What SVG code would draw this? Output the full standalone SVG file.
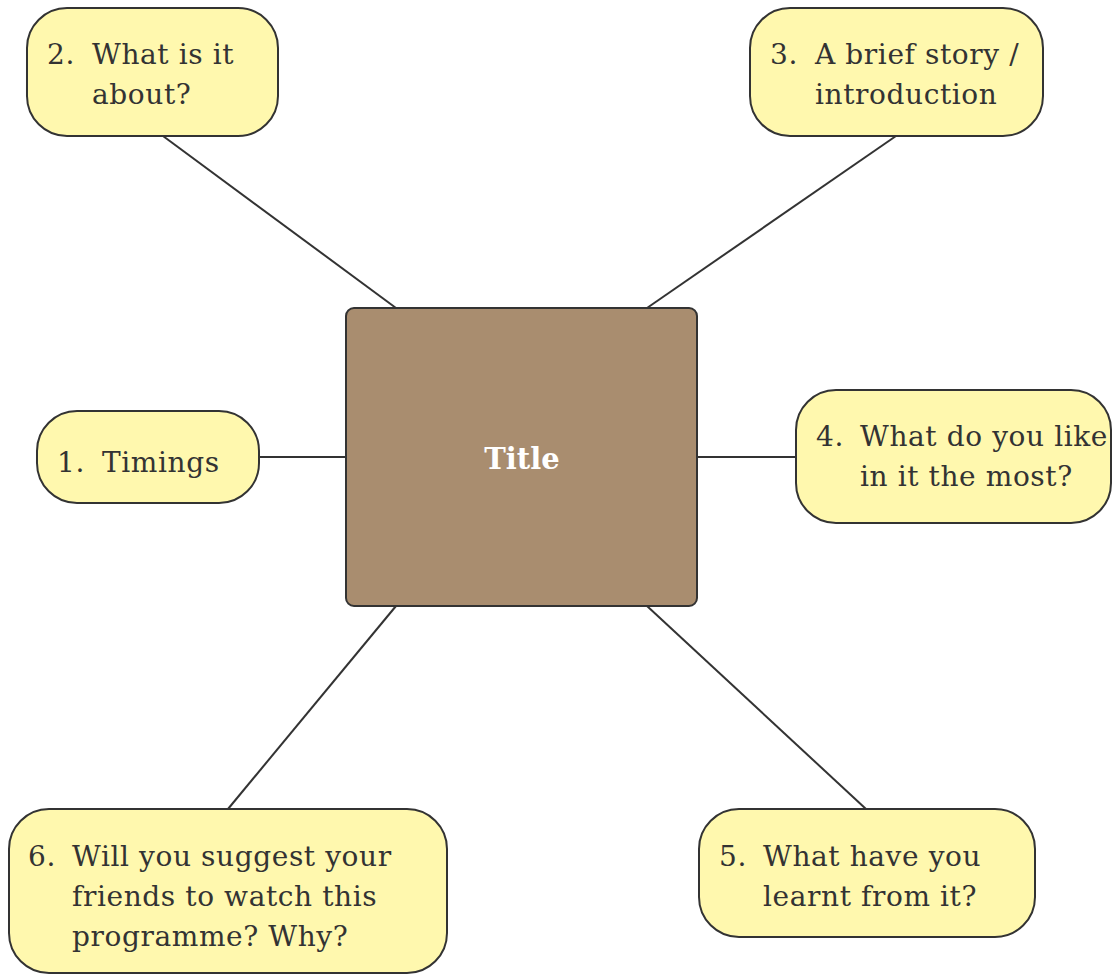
<svg xmlns="http://www.w3.org/2000/svg" width="1117" height="975" viewBox="0 0 1117 975">
  <style>
    .bubble { fill: #FFF8AE; stroke: #333333; stroke-width: 2; }
    .hub { fill: #A98D6F; stroke: #333333; stroke-width: 2; }
    .label { font-family: "DejaVu Serif", "Liberation Serif", serif; font-size: 28px; letter-spacing: 0.6px; fill: #333333; }
    .title { font-family: "DejaVu Serif", "Liberation Serif", serif; font-size: 29px; font-weight: bold; fill: #FFFFFF; }
    .link { stroke: #333333; stroke-width: 2; fill: none; }
  </style>
  <rect width="1117" height="975" fill="#FFFFFF"/>

  <g id="connectors">
    <line class="link" x1="163" y1="136" x2="396" y2="308"/>
    <line class="link" x1="896" y1="136" x2="647" y2="308"/>
    <line class="link" x1="259" y1="457" x2="346" y2="457"/>
    <line class="link" x1="697" y1="457" x2="796" y2="457"/>
    <line class="link" x1="647" y1="606" x2="866" y2="809"/>
    <line class="link" x1="396" y1="606" x2="228" y2="809"/>
  </g>

  <g id="title">
    <rect class="hub" x="346" y="308" width="351" height="298" rx="8"/>
    <text class="title" x="522" y="469" text-anchor="middle">Title</text>
  </g>

  <g id="item-1">
    <rect class="bubble" x="37" y="411" width="222" height="92" rx="40"/>
    <text class="label" x="57" y="472">1.</text>
    <text class="label" x="102" y="472">Timings</text>
  </g>

  <g id="item-2">
    <rect class="bubble" x="27" y="8" width="251" height="128" rx="40"/>
    <text class="label" x="47" y="64">2.</text>
    <text class="label" x="92" y="64">What is it</text>
    <text class="label" x="92" y="104">about?</text>
  </g>

  <g id="item-3">
    <rect class="bubble" x="750" y="8" width="293" height="128" rx="40"/>
    <text class="label" x="770" y="64">3.</text>
    <text class="label" x="815" y="64">A brief story /</text>
    <text class="label" x="815" y="104">introduction</text>
  </g>

  <g id="item-4">
    <rect class="bubble" x="796" y="390" width="315" height="133" rx="40"/>
    <text class="label" x="816" y="446">4.</text>
    <text class="label" x="860" y="446">What do you like</text>
    <text class="label" x="860" y="486">in it the most?</text>
  </g>

  <g id="item-5">
    <rect class="bubble" x="699" y="809" width="336" height="128" rx="40"/>
    <text class="label" x="719" y="866">5.</text>
    <text class="label" x="763" y="866">What have you</text>
    <text class="label" x="763" y="906">learnt from it?</text>
  </g>

  <g id="item-6">
    <rect class="bubble" x="9" y="809" width="438" height="164" rx="40"/>
    <text class="label" x="28" y="866">6.</text>
    <text class="label" x="72" y="866">Will you suggest your</text>
    <text class="label" x="72" y="906">friends to watch this</text>
    <text class="label" x="72" y="946">programme? Why?</text>
  </g>
</svg>
